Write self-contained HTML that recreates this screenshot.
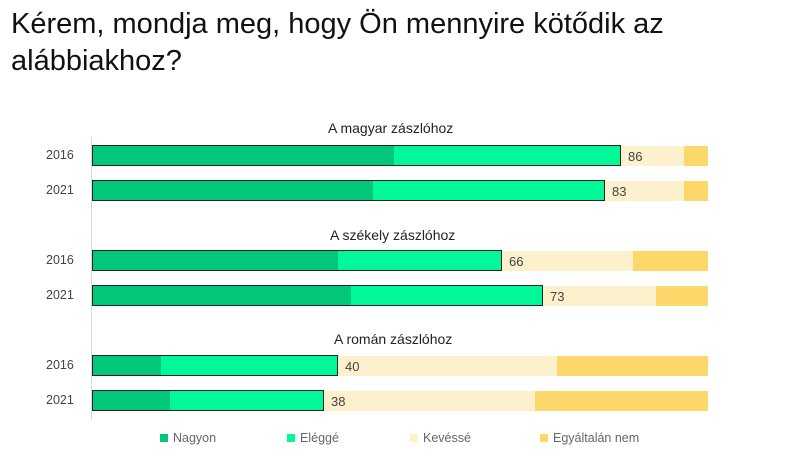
<!DOCTYPE html>
<html><head><meta charset="utf-8"><style>
body{margin:0;width:796px;height:474px;background:#fff;position:relative;overflow:hidden;font-family:"Liberation Sans",sans-serif}
.t{position:absolute;left:11px;top:6px;font-size:29px;line-height:37px;color:#111;font-family:"Liberation Sans",sans-serif;font-weight:300}
.a{position:absolute;font-size:14px;color:#222}
.y{position:absolute;left:46px;font-size:12.5px;color:#444}
.s{position:absolute;height:20px}
.o{position:absolute;height:19px;border:1px solid #222;box-sizing:content-box}
.v{position:absolute;font-size:13px;color:#444}
.lg{position:absolute;top:431px;font-size:12.5px;color:#666}
.lg i{display:inline-block;width:8px;height:8px;margin-right:5px;vertical-align:0}
</style></head><body>
<div class="t">Kérem, mondja meg, hogy Ön mennyire kötődik az<br>alábbiakhoz?</div>
<div style="position:absolute;left:91px;top:137px;width:1px;height:283px;background:#d9d9d9"></div>
<div class="a" style="left:328px;top:120px">A magyar zászlóhoz</div>
<div class="a" style="left:330px;top:227px">A székely zászlóhoz</div>
<div class="a" style="left:334px;top:331px">A román zászlóhoz</div>
<div id="c"></div>
<script>
var rows=[[146,394,620,684,"86","2016"],[181,373,604,684,"83","2021"],[251,338,501,633,"66","2016"],[286,351,542,656,"73","2021"],[356,161,337,557,"40","2016"],[391,170,323,535,"38","2021"]];
var h="";
rows.forEach(function(r){var y=r[0];
h+='<div class="y" style="top:'+(y+2)+'px">'+r[5]+'</div>';
h+='<div class="s" style="top:'+y+'px;left:92px;width:'+(r[1]-92)+'px;background:#00c878"></div>';
h+='<div class="s" style="top:'+y+'px;left:'+r[1]+'px;width:'+(r[2]-r[1])+'px;background:#00f898"></div>';
h+='<div class="s" style="top:'+y+'px;left:'+r[2]+'px;width:'+(r[3]-r[2])+'px;background:#fdf0cc"></div>';
h+='<div class="s" style="top:'+y+'px;left:'+r[3]+'px;width:'+(708-r[3])+'px;background:#fcd86a"></div>';
h+='<div class="o" style="top:'+(y-1)+'px;left:92px;width:'+(r[2]-93)+'px"></div>';
h+='<div class="v" style="top:'+(y+3)+'px;left:'+(r[2]+8)+'px">'+r[4]+'</div>';});
document.getElementById("c").innerHTML=h;
</script>
<div class="lg" style="left:160px"><i style="background:#00c878"></i>Nagyon</div>
<div class="lg" style="left:287px"><i style="background:#00f898"></i>Eléggé</div>
<div class="lg" style="left:410px"><i style="background:#fdf0cc"></i>Kevéssé</div>
<div class="lg" style="left:540px"><i style="background:#fcd86a"></i>Egyáltalán nem</div>
</body></html>
